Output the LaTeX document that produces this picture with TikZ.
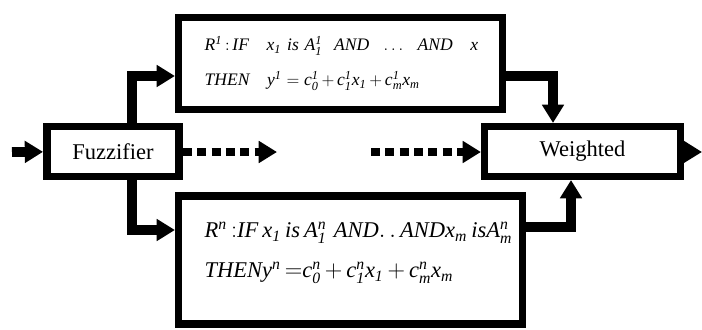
\documentclass[tikz,border=0pt]{standalone}
\usepackage{fontspec}
\setmainfont{Liberation Serif}
\usepackage{amsmath}
\usetikzlibrary{arrows.meta, positioning}
\tikzset{
    block/.style = {draw, line width=5.3pt, minimum height=1.24cm,
        font=\fontsize{16}{19}\selectfont},
    rule box/.style = {draw, line width=5.3pt, align=left, inner xsep=0.65cm},
    flow/.style = {line width=7pt, line join=miter,
        -{Triangle[length=13pt, width=15pt]}},
    skip flow/.style = {flow, line width=5.7pt, dash pattern=on 6.4pt off 3.8pt},
}

\begin{document}
\begin{tikzpicture}[x=0.025cm, y=-0.025cm]
    \useasboundingbox (0,0) rectangle (702,329);

    \node[block, minimum width=3.31cm] (fuzz) at (113,151.5) {Fuzzifier};
    \node[block, minimum width=4.89cm] (weight) at (582.5,151.5) {Weighted};
    \node[rule box, minimum width=8.09cm, minimum height=2.29cm, text width=6.79cm,
        font=\fontsize{12.5}{25}\selectfont] (rule1) at (340.5,63.5)
        {$\mathit{R^1\,{:}\,IF\ \ \ x_1\ is\ A_1^1\ \ AND\ \ \ldots\ \ AND\ \ \ x}$\\
         $\mathit{THEN\quad y^1=c_0^1\,{+}\,c_1^1x_1\,{+}\,c_m^1x_m}$};
    \node[rule box, minimum width=8.59cm, minimum height=3.21cm, text width=7.29cm,
        font=\fontsize{16}{28.5}\selectfont] (rulen) at (350.5,260)
        {$\mathit{R^n\,{:}IF\,x_1\,is\,A_1^n\ AND.\,.\,AND x_m\,is A_m^n}$\\
         $\mathit{THEN y^n\,{=}c_0^n\,{+}\,c_1^nx_1\,{+}\,c_m^nx_m}$\\[-14pt]\mbox{}};

    \coordinate (in) at (12,152);
    \coordinate (out) at (702,152);
    \coordinate (up) at (132,76);
    \coordinate (down) at (132,230);
    \coordinate (join1) at (553,76);
    \coordinate (join2) at (571,227);
    \coordinate (skipA) at (277,152);
    \coordinate (skipB) at (371,152);

    \draw[flow] (in) -- (fuzz);
    \draw[flow] (weight) -- (out);
    \draw[flow] (fuzz.north -| up) -- (up) -- (up -| rule1.west);
    \draw[flow] (fuzz.south -| down) -- (down) -- (down -| rulen.west);
    \draw[flow] (join1 -| rule1.east) -- (join1) -- (join1 |- weight.north);
    \draw[flow] (join2 -| rulen.east) -- (join2) -- (join2 |- weight.south);
    \draw[skip flow] (fuzz.east |- skipA) -- (skipA);
    \draw[skip flow] (skipB) -- (skipB -| weight.west);
\end{tikzpicture}
\end{document}
